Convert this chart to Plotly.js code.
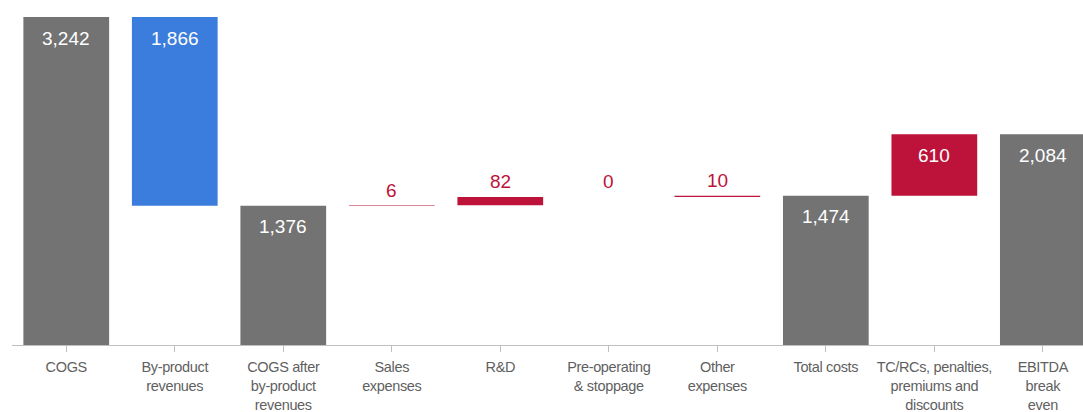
<!DOCTYPE html>
<html>
<head>
<meta charset="utf-8">
<script src="https://cdn.plot.ly/plotly-3.0.1.min.js"></script>
<style>
html,body{margin:0;padding:0;background:#fff;overflow:hidden;}
#chart{width:1083px;height:412px;}
.xtick text{letter-spacing:-0.35px;}
</style>
</head>
<body>
<div id="chart"></div>
<script>
const categories = ["COGS", "By-product<br>revenues", "COGS after<br>by-product<br>revenues", "Sales<br>expenses", "R&D", "Pre-operating<br>& stoppage", "Other<br>expenses", "Total costs", "TC/RCs, penalties,<br>premiums and<br>discounts", "EBITDA<br>break<br>even"];
const values = [3242, 1866, 1376, 6, 82, 0, 10, 1474, 610, 2084];
const kinds = ["total", "decrease", "total", "increase", "increase", "increase", "increase", "total", "increase", "total"];

const colorFor = {total: "#737373", decrease: "#3b7ddc", increase: "#bd133b"};

let running = 0;
const bases = [], heights = [], tops = [], colors = [];
for (let i = 0; i < values.length; i++) {
  const v = values[i], k = kinds[i];
  if (k === "total") { running = v; bases.push(0); heights.push(v); }
  else if (k === "decrease") { running -= v; bases.push(running); heights.push(v); }
  else { bases.push(running); heights.push(v); running += v; }
  tops.push(bases[i] + heights[i]);
  colors.push(colorFor[k]);
}

const annotations = values.map((v, i) => {
  const inside = v > 300;
  return {
    x: i, y: tops[i], xref: "x", yref: "y",
    text: v.toLocaleString("en-US"),
    showarrow: false,
    yanchor: "middle",
    yshift: inside ? -21 : 15,
    font: {family: "Liberation Sans, Arial, sans-serif", size: 19, color: inside ? "#ffffff" : "#bd133b"}
  };
});

const trace = {
  type: "bar",
  x: categories.map((c, i) => i),
  y: heights,
  base: bases,
  marker: {color: colors, line: {width: 0}},
  hoverinfo: "skip"
};

const layout = {
  width: 1083, height: 412,
  margin: {l: 12, r: 0, t: 0, b: 67},
  paper_bgcolor: "#ffffff", plot_bgcolor: "#ffffff",
  bargap: 0.21,
  showlegend: false,
  xaxis: {
    range: [-0.5, 9.37],
    tickmode: "array",
    tickvals: categories.map((c, i) => i),
    ticktext: categories.map(c => c.replace("&", "&amp;")),
    showline: true, linecolor: "#bfbfbf", linewidth: 1,
    ticks: "outside", tickson: "boundaries", ticklen: 6, tickcolor: "#bfbfbf",
    showgrid: false, zeroline: false,
    ticklabelstandoff: 3,
    tickfont: {family: "Liberation Sans, Arial, sans-serif", size: 14.5, color: "#5f5f5f"},
    fixedrange: true
  },
  yaxis: {
    range: [0, 3410],
    visible: false, showgrid: false, zeroline: false,
    fixedrange: true
  },
  annotations: annotations
};

Plotly.newPlot("chart", [trace], layout, {displayModeBar: false, staticPlot: true});
</script>
</body>
</html>
